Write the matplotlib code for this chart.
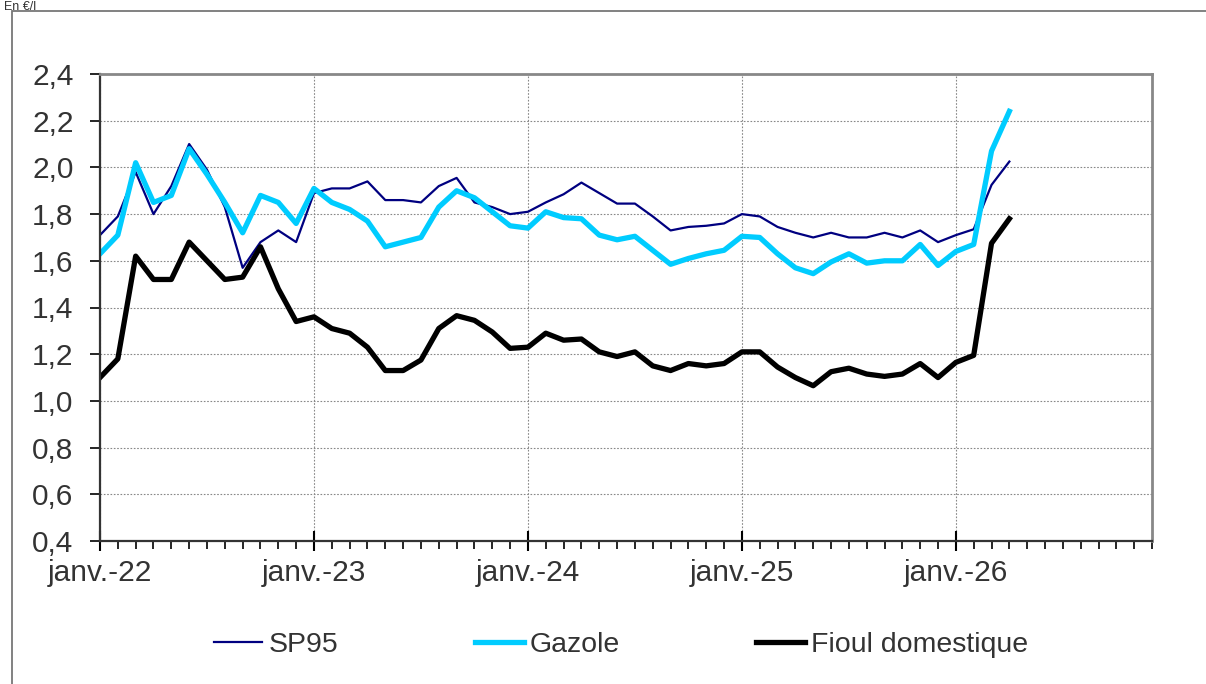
import numpy as np
import matplotlib
matplotlib.use("Agg")
import matplotlib.pyplot as plt
from matplotlib.patches import Rectangle
from matplotlib.ticker import MultipleLocator, FixedLocator

plt.rcParams['font.family'] = ['Liberation Sans', 'DejaVu Sans']

# monthly prices, janv.-22 .. avr.-26 (index 0 = janv.-22)
sp95 = [1.71, 1.79, 1.98, 1.80, 1.92, 2.10, 1.99, 1.83, 1.57, 1.68, 1.73, 1.68,
        1.89, 1.91, 1.91, 1.94, 1.86, 1.86, 1.85, 1.92, 1.955, 1.85, 1.83, 1.80,
        1.81, 1.85, 1.885, 1.935, 1.89, 1.845, 1.845, 1.79, 1.73, 1.745, 1.75, 1.76,
        1.80, 1.79, 1.745, 1.72, 1.70, 1.72, 1.70, 1.70, 1.72, 1.70, 1.73, 1.68,
        1.71, 1.735, 1.925, 2.025]
gazole = [1.63, 1.71, 2.02, 1.85, 1.88, 2.08, 1.97, 1.85, 1.72, 1.88, 1.85, 1.76,
          1.91, 1.85, 1.82, 1.77, 1.66, 1.68, 1.70, 1.83, 1.90, 1.87, 1.81, 1.75,
          1.74, 1.81, 1.785, 1.78, 1.71, 1.69, 1.705, 1.645, 1.585, 1.61, 1.63, 1.645,
          1.705, 1.70, 1.63, 1.57, 1.545, 1.595, 1.63, 1.59, 1.60, 1.60, 1.67, 1.58,
          1.64, 1.67, 2.07, 2.24]
fioul = [1.10, 1.18, 1.62, 1.52, 1.52, 1.68, 1.60, 1.52, 1.53, 1.66, 1.48, 1.34,
         1.36, 1.31, 1.29, 1.23, 1.13, 1.13, 1.175, 1.31, 1.365, 1.345, 1.295, 1.225,
         1.23, 1.29, 1.26, 1.265, 1.21, 1.19, 1.21, 1.15, 1.13, 1.16, 1.15, 1.16,
         1.21, 1.21, 1.145, 1.10, 1.065, 1.125, 1.14, 1.115, 1.105, 1.115, 1.16, 1.10,
         1.165, 1.195, 1.675, 1.78]
year_labels = ["janv.-22", "janv.-23", "janv.-24", "janv.-25", "janv.-26"]

months = np.arange(len(sp95))

fig = plt.figure(figsize=(12.06, 6.84), dpi=100)
ax = fig.add_axes([100/1206, 1 - 541/684, 1052/1206, 467/684])

# outer chart frame (cut off at right and bottom)
fig.patches.append(Rectangle((12/1206, -0.05), 1.1, 1 - 11/684 + 0.05,
                             transform=fig.transFigure, fill=False,
                             edgecolor='#777777', linewidth=1.3))
fig.text(4/1206, 1 - 0.5/684, "En €/l", fontsize=9, color='#333333', va='top', ha='left')

ax.plot(months, sp95, color='#000080', lw=1.6, label='SP95')
ax.plot(months, gazole, color='#00CCFF', lw=3.8, label='Gazole')
ax.plot(months, fioul, color='#000000', lw=3.8, label='Fioul domestique')

ax.set_xlim(0, 59)
ax.set_ylim(0.4, 2.4)
ax.yaxis.set_major_locator(MultipleLocator(0.2))
ax.set_yticklabels([f"{v:.1f}".replace('.', ',') for v in ax.get_yticks()])
ax.xaxis.set_major_locator(FixedLocator([0, 12, 24, 36, 48]))
ax.set_xticklabels(year_labels)
ax.xaxis.set_minor_locator(MultipleLocator(1))

ax.grid(True, which='major', color='#888888', linestyle=(0, (1.5, 1.5)), linewidth=0.8)
ax.tick_params(axis='y', which='major', length=7, width=1.2, labelsize=21.5,
               labelcolor='#333333', pad=12)
ax.tick_params(axis='x', which='major', direction='inout', length=14, width=1.5,
               labelsize=21.5, labelcolor='#333333', pad=6)
ax.tick_params(axis='x', which='minor', direction='out', length=6, width=1.2)

for s in ['top', 'right']:
    ax.spines[s].set_color('#888888')
    ax.spines[s].set_linewidth(2)
for s in ['left', 'bottom']:
    ax.spines[s].set_color('#333333')
    ax.spines[s].set_linewidth(1.6)

leg = ax.legend(loc='center', bbox_to_anchor=(0.495, -0.222), ncol=3, frameon=False,
                fontsize=20.5, handlelength=1.72, handletextpad=0.2, columnspacing=4.8)
for t in leg.get_texts():
    t.set_color('#333333')

fig.savefig("out.png", dpi=100)
